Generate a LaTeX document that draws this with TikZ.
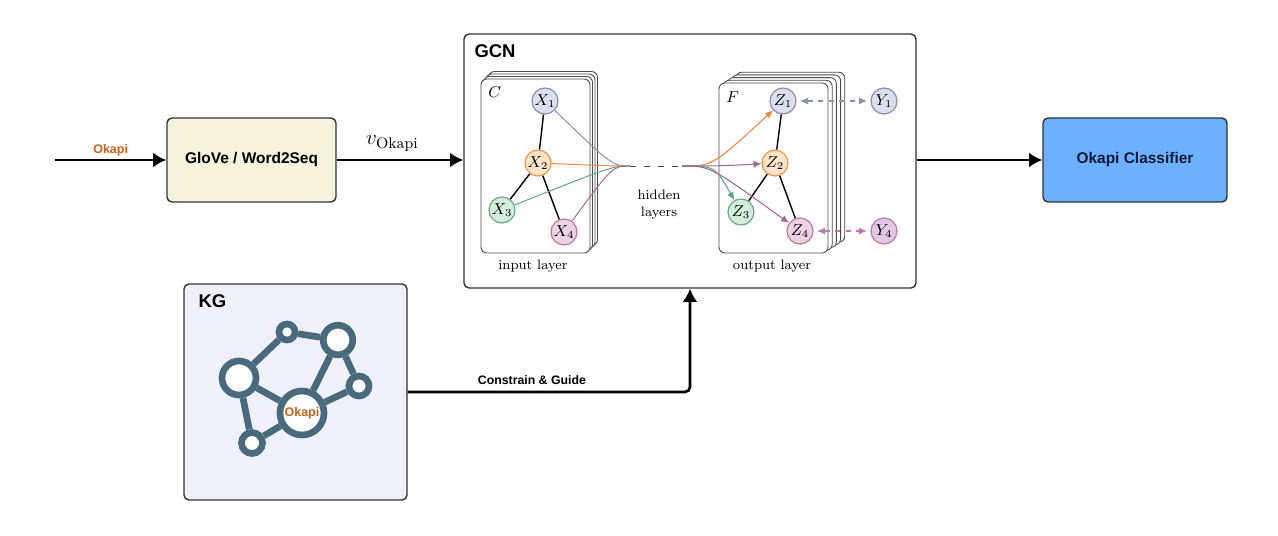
\documentclass[tikz,border=0pt]{standalone}
\usepackage{fontspec}
\setsansfont{Liberation Sans}
\usetikzlibrary{arrows.meta,positioning}

\definecolor{glovefill}{HTML}{F6F3DE}
\definecolor{clsfill}{HTML}{6CB0FF}
\definecolor{clstext}{HTML}{0E1A33}
\definecolor{kgfill}{HTML}{F0F0FB}
\definecolor{kgslate}{HTML}{4A6A7C}
\definecolor{okapicol}{HTML}{C8621E}
\definecolor{bluefill}{HTML}{DCDFEC}
\definecolor{blueline}{HTML}{8A8FB0}
\definecolor{orangefill}{HTML}{FDE3C8}
\definecolor{orangeline}{HTML}{EE9A4E}
\definecolor{greenfill}{HTML}{D5EBDD}
\definecolor{greenline}{HTML}{6DAA86}
\definecolor{pinkfill}{HTML}{EBD3E5}
\definecolor{pinkline}{HTML}{B27FA5}
\definecolor{ypinkfill}{HTML}{E2C8E2}
\definecolor{bluefeed}{HTML}{8C8CB4}
\definecolor{orangefeed}{HTML}{E9884A}
\definecolor{greenfeed}{HTML}{5FA08A}
\definecolor{mauvefeed}{HTML}{A06A90}

\begin{document}
\begin{tikzpicture}[
    x=1cm, y=1cm,
    >={Latex[length=7.5pt,width=8.5pt]},
    arrow/.style={->, line width=1.5pt, draw=black},
    block/.style={
        rounded corners=1mm,
        draw=black!80,
        line width=0.8pt,
        minimum width=3.38cm,
        minimum height=1.68cm,
        align=center,
        font=\sffamily\bfseries\fontsize{8.8}{10}\selectfont
    },
    frame/.style={
        rounded corners=1mm,
        draw=black!80,
        line width=0.8pt
    },
    title/.style={anchor=north west, font=\sffamily\bfseries\fontsize{10.5}{12}\selectfont},
    card/.style={rounded corners=1.2mm, draw=black!70, fill=white, line width=0.5pt, minimum width=2.18cm},
    neuron/.style={circle, minimum size=0.52cm, inner sep=0pt, line width=0.7pt, font=\fontsize{8.8}{10}\selectfont},
    bond/.style={line width=0.8pt, draw=black},
    feed/.style={line width=0.55pt},
    feedarr/.style={-{Latex[length=4.5pt,width=4pt]}, line width=0.6pt},
    pair/.style={{Latex[length=4.5pt,width=4pt]}-{Latex[length=4.5pt,width=4pt]}, dashed, line width=0.6pt,
        shorten >=2pt, shorten <=2pt},
    note/.style={font=\fontsize{7.8}{9.6}\selectfont, align=center},
    okapi/.style={text=okapicol, font=\sffamily\bfseries\fontsize{7.1}{8}\selectfont},
    kgnode/.style={circle, draw=kgslate, fill=white, line width=3.8pt, inner sep=0pt},
    kgedge/.style={draw=kgslate, line width=3.8pt}
]
    \useasboundingbox (0,0) rectangle (25.56,10.7);

    %------------------------------------------------
    % embedding
    %------------------------------------------------
    \coordinate (src) at (1.1,7.5);
    \node[block, fill=glovefill] (glove) at (5.03,7.5) {GloVe / Word2Seq};
    \draw[arrow] (src) -- node[above=-2pt, okapi] {Okapi} (glove.west);

    %------------------------------------------------
    % GCN
    %------------------------------------------------
    \node[frame, fill=white, minimum width=9.04cm, minimum height=5.08cm] (gcn) at (13.8,7.48) {};
    \node[title] (gcntitle) at ([shift={(0.1,-0.11)}]gcn.north west) {GCN};

    \draw[arrow] (glove.east) -- node[pos=0.44, above=1pt, font=\fontsize{12.5}{14}\selectfont] {$v_{\mathrm{Okapi}}$} (glove.east -| gcn.west);

    % input layer
    \foreach \k in {3,2,1}
        \node[card, minimum height=3.48cm] (inback\k) at (10.71+\k*0.05, 7.38+\k*0.05) {};
    \node[card, minimum height=3.48cm] (inlayer) at (10.71,7.38) {};
    \node[anchor=north west, font=\fontsize{8.8}{10}\selectfont] (clab) at ([shift={(0.03,-0.03)}]inlayer.north west) {$C$};

    \node[neuron, fill=bluefill, draw=blueline] (x1) at (10.9,8.68) {$X_1$};
    \node[neuron, fill=orangefill, draw=orangeline] (x2) at (10.76,7.44) {$X_2$};
    \node[neuron, fill=greenfill, draw=greenline] (x3) at (10.04,6.5) {$X_3$};
    \node[neuron, fill=pinkfill, draw=pinkline] (x4) at (11.28,6.06) {$X_4$};
    \draw[bond] (x1) -- (x2) (x2) -- (x3) (x2) -- (x4);

    \node[note] (inlab) at (10.66,5.38) {input layer};

    % hidden layers
    \coordinate (hubin) at (12.6,7.38);
    \coordinate (hubout) at (13.64,7.38);
    \draw[feed, draw=bluefeed] (x1) .. controls (12.25,7.38) .. (hubin);
    \draw[feed, draw=orangefeed] (x2) .. controls (12.25,7.38) .. (hubin);
    \draw[feed, draw=greenfeed] (x3) .. controls (12.25,7.38) .. (hubin);
    \draw[feed, draw=mauvefeed] (x4) .. controls (12.25,7.38) .. (hubin);
    \draw[feed, draw=black!70, dash pattern=on 3.5pt off 4.5pt] (hubin) -- (hubout);
    \node[note] (hidden) at (13.18,6.6) {hidden\\layers};

    % output layer
    \foreach \k in {4,3,2,1}
        \node[card, minimum height=3.4cm] (outback\k) at (15.47+\k*0.084, 7.34+\k*0.054) {};
    \node[card, minimum height=3.4cm] (outlayer) at (15.47,7.34) {};
    \node[anchor=north west, font=\fontsize{8.8}{10}\selectfont] (flab) at ([shift={(0.03,-0.06)}]outlayer.north west) {$F$};

    \node[neuron, fill=bluefill, draw=blueline] (z1) at (15.66,8.68) {$Z_1$};
    \node[neuron, fill=orangefill, draw=orangeline] (z2) at (15.5,7.44) {$Z_2$};
    \node[neuron, fill=greenfill, draw=greenline] (z3) at (14.82,6.46) {$Z_3$};
    \node[neuron, fill=pinkfill, draw=pinkline] (z4) at (16.0,6.08) {$Z_4$};
    \draw[bond] (z1) -- (z2) (z2) -- (z3) (z2) -- (z4);

    \draw[feedarr, draw=orangefeed] (hubout) .. controls (14.25,7.38) .. (z1);
    \draw[feedarr, draw=mauvefeed] (hubout) .. controls (14.4,7.38) .. (z2);
    \draw[feedarr, draw=greenfeed] (hubout) .. controls (14.3,7.38) .. (z3);
    \draw[feedarr, draw=mauvefeed] (hubout) .. controls (14.2,7.38) .. (z4);

    \node[neuron, fill=bluefill, draw=blueline] (y1) at (17.68,8.68) {$Y_1$};
    \node[neuron, fill=ypinkfill, draw=pinkline] (y4) at (17.68,6.08) {$Y_4$};
    \draw[pair, draw=blueline] (z1) -- (y1);
    \draw[pair, draw=pinkline] (z4) -- (y4);

    \node[note] (outlab) at (15.44,5.38) {output layer};

    %------------------------------------------------
    % classifier
    %------------------------------------------------
    \node[block, fill=clsfill, text=clstext, minimum width=3.68cm] (cls) at (22.7,7.5) {Okapi Classifier};
    \draw[arrow] (gcn.east |- cls.west) -- (cls.west);

    %------------------------------------------------
    % KG
    %------------------------------------------------
    \node[frame, fill=kgfill, minimum width=4.46cm, minimum height=4.32cm] (kg) at (5.91,2.86) {};
    \node[title] (kgtitle) at ([shift={(0.18,-0.1)}]kg.north west) {KG};

    \node[kgnode, minimum size=0.68cm] (k1) at (4.78,3.14) {};
    \node[kgnode, minimum size=0.32cm] (k2) at (5.74,4.06) {};
    \node[kgnode, minimum size=0.59cm] (k3) at (6.76,3.9) {};
    \node[kgnode, minimum size=0.40cm] (k4) at (7.18,2.98) {};
    \node[kgnode, minimum size=0.88cm, okapi] (k5) at (6.04,2.44) {Okapi};
    \node[kgnode, minimum size=0.42cm] (k6) at (5.04,1.84) {};
    \draw[kgedge] (k1) -- (k2) (k2) -- (k3) (k3) -- (k5) (k3) -- (k4)
        (k4) -- (k5) (k1) -- (k5) (k1) -- (k6) (k6) -- (k5);

    \draw[arrow, rounded corners=1mm] (kg.east) -| node[pos=0.22, above, font=\sffamily\bfseries\fontsize{7}{8}\selectfont] {Constrain \& Guide} (gcn.south);

\end{tikzpicture}
\end{document}
